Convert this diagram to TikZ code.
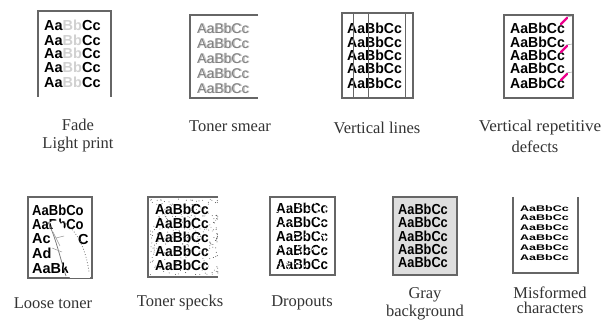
\documentclass[tikz,border=0pt]{standalone}
\usepackage{fontspec}
\setmainfont{Liberation Serif}
\setsansfont{Liberation Sans}
\begin{document}
\begin{tikzpicture}[x=1pt,y=-1pt,
  frame/.style={draw=black!60, line width=1.1pt},
  smp/.style={anchor=west, inner sep=0pt, font=\sffamily\bfseries\fontsize{14.5}{14.5}\selectfont},
  smpl/.style={anchor=west, inner sep=0pt, font=\sffamily\fontsize{14}{14}\selectfont, text=black!50},
  smpm/.style={anchor=west, inner sep=0pt, font=\sffamily\bfseries\fontsize{12.5}{12.5}\selectfont},
  lbl/.style={inner sep=0pt, font=\fontsize{16.5}{16.5}\selectfont, text=black!80, align=center},
  pinkmark/.style={draw=magenta, line width=2.2pt, line cap=round}]
\useasboundingbox[fill=white] (0,0) rectangle (613,320);

% ---------- 1 Fade ----------
\draw[frame] (38,97) -- (38,11) -- (111,11) -- (111,97);
\foreach \y/\n in {25/a,40/b,53/c,67/d,82/e}
  \node[smp] (fade\n) at (44,\y) {Aa\textcolor{black!18}{Bb}Cc};
\node[lbl] (lfade) at (78,125) {Fade};
\node[lbl] (lfade2) at (78,145) {Light print};

% ---------- 2 Toner smear ----------
\draw[frame] (258,15) -- (190,15) -- (190,98) -- (258,98);
\foreach \y/\n in {28/a,43/b,58/c,73/d,88/e}{
  \node[smpl, text=black!25] at (198.2,\y) {AaBbCc};
  \node[smpl] (sm\n) at (197,\y) {AaBbCc};}
\node[lbl] (lsmear) at (230,126) {Toner smear};

% ---------- 3 Vertical lines ----------
\draw[frame] (342,13) rectangle (413,98);
\foreach \y/\n in {28/a,42/b,55/c,68/d,83/e}
  \node[smp] (vl\n) at (347,\y) {\scalebox{0.97}[1]{AaBbCc}};
\foreach \x in {353,368,405}
  \draw[black!60, line width=1pt] (\x,13) -- (\x,98);
\node[lbl] (lvl) at (377,128) {Vertical lines};

% ---------- 4 Vertical repetitive defects ----------
\draw[frame] (504,15) rectangle (573,98);
\foreach \y/\n in {28/a,42/b,55/c,68/d,83/e}
  \node[smp] (vr\n) at (510,\y) {\scalebox{0.97}[1]{AaBbCc}};
\foreach \y in {24,52,80}{
  \draw[pinkmark] (561,\y) -- (567,\y-6);
  \draw[black!50, line width=0.4pt] (566,\y-7) -- (572,\y-8);}
\node[lbl] (lvr) at (540,128) {\scalebox{1.04}[1]{Vertical repetitive}};
\node[lbl] (lvr2) at (535,147) {defects};

% ---------- 5 Loose toner ----------
\draw[frame] (28,197) rectangle (92,278);
\node[smp] (lt1) at (32,210) {\scalebox{0.9}[1]{AaBbCo}};
\node[smp] (lt2) at (32,224) {\scalebox{0.9}[1]{AaBbCo}};
\node[smp] (lt3) at (32,239) {Ac};
\node[smp] (lt3b) at (78,240) {C};
\node[smp] (lt4) at (32,253) {Ad};
\node[smp] (lt5) at (32,268) {AaBk};
\fill[white] (50,222) .. controls (58,240) and (64,258) .. (70,278)
  -- (90,278) -- (90,268) .. controls (84,252) and (70,236) .. (58,220) -- cycle;
\draw[black!55, line width=0.7pt] (48,222) .. controls (56,238) and (60,258) .. (66,276);
\draw[black!55, line width=0.8pt, dotted] (64,222) .. controls (78,232) and (86,250) .. (89,272);
\draw[black!40, line width=0.5pt] (53,232) -- (60,246) (56,238) -- (64,236) (52,248) -- (62,252);
\node[lbl] (lloose) at (53,303) {Loose toner};

% ---------- 6 Toner specks ----------
\draw[frame] (218,197) -- (148,197) -- (148,277) -- (218,277);
\foreach \y/\n in {209/a,223/b,237/c,251/d,265/e}
  \node[smp] (ts\n) at (155,\y) {\scalebox{0.95}[1]{AaBbCc}};
\pgfmathsetseed{11}
\foreach \i in {1,...,260}
  \fill[black!70] ({150+68*rnd},{199+76*rnd}) circle (0.45);
\foreach \i in {1,...,25}
  \fill[black!70] ({215+3*rnd},{199+76*rnd}) circle (0.5);
\node[lbl] (lspeck) at (180,303) {Toner specks};

% ---------- 7 Dropouts ----------
\draw[frame] (270,197) rectangle (335,275);
\foreach \y/\n in {208/a,222/b,236/c,250/d,264/e}
  \node[smp] (dr\n) at (276,\y) {\scalebox{0.92}[1]{AaBbCc}};
\pgfmathsetseed{5}
\foreach \i in {1,...,160}
  \fill[white] ({275+58*rnd},{201+68*rnd}) circle (0.9);
\node[lbl] (ldrop) at (302,303) {Dropouts};

% ---------- 8 Gray background ----------
\draw[frame, fill=black!13] (393,197) rectangle (457,275);
\foreach \y/\n in {209/a,222/b,236/c,249/d,262/e}
  \node[smp] (gb\n) at (398,\y) {\scalebox{0.88}[1]{AaBbCc}};
\node[lbl] (lgray) at (425,295) {Gray};
\node[lbl] (lgray2) at (425,313) {background};

% ---------- 9 Misformed characters ----------
\draw[frame] (513,197) -- (513,273) -- (578,273) -- (578,197);
\foreach \y/\n in {209/a,218/b,228/c,238/d,248/e,258/f}
  \node[smpm] (mf\n) at (520,\y) {\scalebox{1.0}[0.65]{AaBbCc}};
\node[lbl] (lmis) at (550,293) {Misformed};
\node[lbl] (lmis2) at (550,308) {characters};
\end{tikzpicture}
\end{document}
